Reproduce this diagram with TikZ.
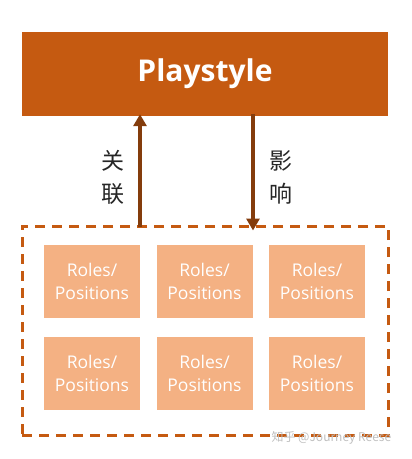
\documentclass[tikz,border=0pt]{standalone}
\usepackage{fontspec}
\setmainfont{Open Sans}
\newfontfamily\cjkfont{Noto Sans CJK SC}
\usetikzlibrary{arrows.meta}
\definecolor{darkorange}{HTML}{C55A11}
\definecolor{arrowbrown}{HTML}{843C0C}
\definecolor{lightorange}{HTML}{F4B183}
\tikzset{
  playbox/.style={fill=darkorange, draw=none, minimum width=366pt, minimum height=84pt, inner sep=0pt,
    text=white, font=\fontsize{30}{36}\selectfont\bfseries},
  rolebox/.style={fill=lightorange, draw=none, minimum width=96pt, minimum height=73pt, inner sep=0pt,
    text=white, align=center, font=\fontsize{17.5}{23}\selectfont},
  groupbox/.style={draw=darkorange, line width=3pt, dash pattern=on 10pt off 7pt},
  linkarrow/.style={draw=arrowbrown, line width=3.5pt, -{Triangle[width=13pt,length=12pt]}},
  cjklabel/.style={align=center, font=\cjkfont\fontsize{23}{33}\selectfont, text=black!85}
}
\begin{document}
\begin{tikzpicture}[x=1pt,y=-1pt]
\useasboundingbox (0,0) rectangle (412,459);
\node[playbox] (play) at (205,74) {Playstyle};
\node[groupbox, minimum width=366pt, minimum height=209pt, inner sep=0pt] (group) at (205,330.5) {};
\node[rolebox] (r11) at (92,281.5) {Roles/\\Positions};
\node[rolebox] (r12) at (204.5,281.5) {Roles/\\Positions};
\node[rolebox] (r13) at (317,281.5) {Roles/\\Positions};
\node[rolebox] (r21) at (92,373.5) {Roles/\\Positions};
\node[rolebox] (r22) at (204.5,373.5) {Roles/\\Positions};
\node[rolebox] (r23) at (317,373.5) {Roles/\\Positions};
\coordinate (upx) at (140,0);
\coordinate (downx) at (253,0);
\draw[linkarrow] ([yshift=-2pt]group.north -| upx) -- ([yshift=2pt]play.south -| upx);
\draw[linkarrow] ([yshift=2pt]play.south -| downx) -- ([yshift=-6pt]group.north -| downx);
\node[cjklabel] (l1) at (113,177) {关\\联};
\node[cjklabel] (l2) at (281,177) {影\\响};
\node[text=black!25, font=\cjkfont\fontsize{12}{14}\selectfont, anchor=west] (wm) at (268,438) {知乎 @Journey Reese};
\end{tikzpicture}
\end{document}
